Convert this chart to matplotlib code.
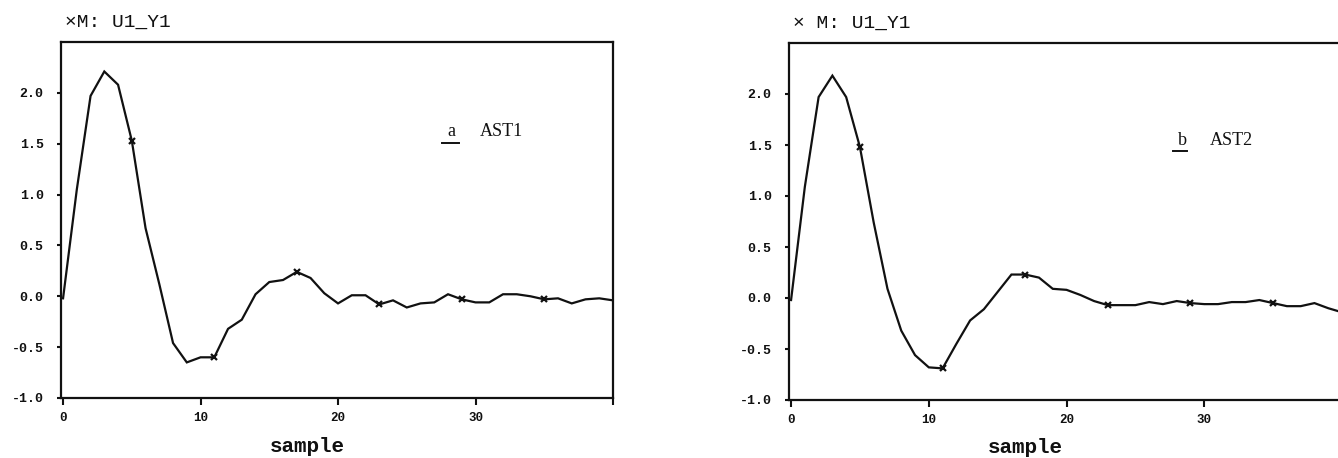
import matplotlib
matplotlib.use("Agg")
import matplotlib.pyplot as plt
from matplotlib.lines import Line2D

# Impulse responses U1 -> Y1 for two model structures
samples = list(range(41))

ast1 = [-0.02, 1.05, 1.97, 2.21, 2.08, 1.53, 0.67, 0.12, -0.46, -0.65,
        -0.60, -0.60, -0.32, -0.23, 0.02, 0.14, 0.16, 0.24, 0.18, 0.03,
        -0.07, 0.01, 0.01, -0.08, -0.04, -0.11, -0.07, -0.06, 0.02, -0.03,
        -0.06, -0.06, 0.02, 0.02, 0.00, -0.03, -0.02, -0.07, -0.03, -0.02,
        -0.04]

ast2 = [-0.02, 1.09, 1.97, 2.18, 1.97, 1.48, 0.74, 0.09, -0.32, -0.56,
        -0.68, -0.69, -0.45, -0.22, -0.11, 0.06, 0.23, 0.23, 0.20, 0.09,
        0.08, 0.03, -0.03, -0.07, -0.07, -0.07, -0.04, -0.06, -0.03, -0.05,
        -0.06, -0.06, -0.04, -0.04, -0.02, -0.05, -0.08, -0.08, -0.05, -0.10,
        -0.14]

panel_titles = ["\u00d7M: U1_Y1", "\u00d7 M: U1_Y1"]
panel_letters = ["a", "b"]
panel_names = ["AST1", "AST2"]

x_ticks = [0, 10, 20, 30, 40]
x_tick_labels = ["0", "10", "20", "30", ""]
y_ticks = [-1.0, -0.5, 0.0, 0.5, 1.0, 1.5, 2.0]
y_tick_labels = ["-1.0", "-0.5", "0.0", "0.5", "1.0", "1.5", "2.0"]

W, H = 1338, 458
fig = plt.figure(figsize=(W / 100, H / 100), dpi=100)
fig.patch.set_facecolor("white")

def frac_box(left, top, right, bottom):
    return [left / W, 1 - bottom / H, (right - left) / W, (bottom - top) / H]

ax1 = fig.add_axes(frac_box(61, 42, 613, 398))
ax2 = fig.add_axes(frac_box(789, 43, 1342, 400))

mono = "Liberation Mono"
serif = "Liberation Serif"

layout = [
    dict(ax=ax1, series=ast1, letter_xy=(0.708, 0.735), ul=(0.690, 0.721, 0.716),
         name_x=0.759, name_y=0.735, label_xy=(0.447, -0.152)),
    dict(ax=ax2, series=ast2, letter_xy=(0.711, 0.714), ul=(0.694, 0.720, 0.697),
         name_x=0.761, name_y=0.714, label_xy=(0.427, -0.148)),
]

for k, cfg in enumerate(layout):
    ax = cfg["ax"]
    ax.plot(samples, cfg["series"], color="#111111", lw=1.6,
            marker="x", markevery=(5, 6), ms=5, mew=1.6, mec="#111111",
            solid_joinstyle="miter")
    ax.set_xlim(-0.15, 40)
    ax.set_ylim(-1.0, 2.5)

    ax.set_xticks(x_ticks)
    ax.set_xticklabels(x_tick_labels, fontfamily=mono, fontweight="bold", fontsize=9)
    ax.set_yticks(y_ticks)
    ax.set_yticklabels(y_tick_labels, fontfamily=mono, fontweight="bold", fontsize=9.5)
    ax.tick_params(axis="x", direction="out", length=5, width=1.5, pad=5, colors="#111111")
    ax.tick_params(axis="y", direction="out", length=3, width=1.5, pad=9.5, colors="#111111")
    for sp in ax.spines.values():
        sp.set_linewidth(1.6)
        sp.set_color("#111111")

    ax.set_xlabel("sample", fontfamily=mono, fontweight="bold", fontsize=15,
                  color="#111111", va="baseline")
    ax.xaxis.set_label_coords(*cfg["label_xy"])

    ax.text(0.007, 1.056, panel_titles[k], transform=ax.transAxes,
            ha="left", va="center", fontfamily=mono, fontsize=14, color="#111111")

    lx, ly = cfg["letter_xy"]
    ax.text(lx, ly, panel_letters[k], transform=ax.transAxes, ha="center",
            va="baseline", fontfamily=serif, fontsize=13, color="#111111")
    x0, x1, yu = cfg["ul"]
    ax.add_line(Line2D([x0, x1], [yu, yu], transform=ax.transAxes,
                       color="#111111", lw=1.4, clip_on=False))
    ax.text(cfg["name_x"], cfg["name_y"], panel_names[k], transform=ax.transAxes,
            ha="left", va="baseline", fontfamily=serif, fontsize=13, color="#111111")

fig.savefig("out.png", dpi=100, facecolor="white")
